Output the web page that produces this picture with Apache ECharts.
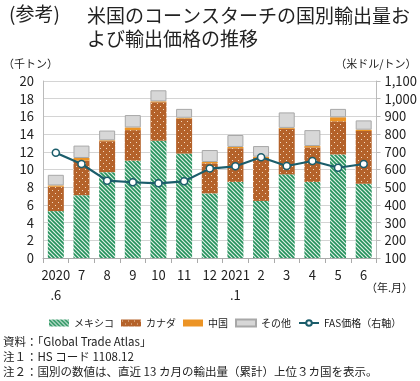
<!DOCTYPE html>
<html><head><meta charset="utf-8">
<script src="https://cdn.jsdelivr.net/npm/echarts@6/dist/echarts.min.js"></script>
<style>html,body{margin:0;padding:0;background:#fff}#c{width:420px;height:381px}</style>
</head><body><div id="c"></div>
<script>
const categories = ['2020\n.6','7','8','9','10','11','12','2021\n.1','2','3','4','5','6'];
const mexico = [5.3, 7.1, 9.7, 11.0, 13.25, 11.8, 7.3, 8.6, 6.45, 9.45, 8.6, 11.7, 8.4];
const canada = [2.75, 3.9, 3.5, 3.45, 4.35, 3.95, 3.4, 3.8, 4.85, 5.15, 3.9, 3.75, 5.95];
const china  = [0.15, 0.3, 0.1, 0.3, 0.1, 0.1, 0.15, 0.15, 0.15, 0.1, 0.15, 0.45, 0.15];
const other  = [1.2, 1.4, 1.1, 1.4, 1.25, 1.0, 1.35, 1.35, 1.2, 1.75, 1.8, 0.95, 1.05];
const fasPrice = [695, 631, 537, 528, 522, 533, 605, 618, 669, 620, 648, 610, 631];
const leftTicks = {min:0, max:20, interval:2};
const rightTicks = {min:100, max:1100, interval:100};

const FONT = '"Noto Sans CJK JP", "Noto Sans", sans-serif';

function hatch(){
  const c = document.createElement('canvas'); c.width = 4; c.height = 4;
  const g = c.getContext('2d');
  g.fillStyle = '#dff0e6'; g.fillRect(0,0,4,4);
  g.strokeStyle = '#24915c'; g.lineWidth = 1.6;
  g.beginPath(); g.moveTo(-1,-1); g.lineTo(5,5); g.moveTo(-1,3); g.lineTo(1,5); g.moveTo(3,-1); g.lineTo(5,1); g.stroke();
  return c;
}
function dots(){
  const c = document.createElement('canvas'); c.width = 6; c.height = 6;
  const g = c.getContext('2d');
  g.fillStyle = '#b4622a'; g.fillRect(0,0,6,6);
  g.fillStyle = '#f3d9bf';
  g.fillRect(1,1,1,1); g.fillRect(4,4,1,1);
  return c;
}
const chart = echarts.init(document.getElementById('c'));
chart.setOption({
  animation:false,
  textStyle:{fontFamily:FONT},
  title:[
    {text:'(参考)', left:4, top:-1, textStyle:{fontSize:19, fontWeight:'normal', color:'#222', fontFamily:FONT}},
    {text:'米国のコーンスターチの国別輸出量お\nよび輸出価格の推移', left:82, top:-1, textStyle:{fontSize:19, fontWeight:'normal', color:'#222', lineHeight:23, fontFamily:FONT}}
  ],
  grid:{left:33, right:43, top:81, bottom:123},
  legend:{
    top:313, left:44, itemWidth:20, itemHeight:7, itemGap:7,
    textStyle:{fontSize:10, color:'#222', fontFamily:FONT},
    data:[{name:'メキシコ',icon:'rect'},{name:'カナダ',icon:'rect'},{name:'中国',icon:'rect'},{name:'その他',icon:'rect'},'FAS価格（右軸）']
  },
  xAxis:{type:'category', data:categories,
    axisLine:{lineStyle:{color:'#aaa'}},
    axisTick:{show:true, lineStyle:{color:'#aaa'}},
    axisLabel:{fontSize:13, color:'#222', lineHeight:20, margin:7, interval:0}
  },
  yAxis:[
    {type:'value', min:leftTicks.min, max:leftTicks.max, interval:leftTicks.interval,
     name:'（千トン）', nameGap:12, nameLocation:'end', nameTextStyle:{fontSize:11, color:'#222', align:'left', padding:[0,0,0,-40]},
     axisLine:{show:true, lineStyle:{color:'#bbb'}}, axisTick:{show:false},
     axisLabel:{fontSize:13, color:'#222', margin:9},
     splitLine:{lineStyle:{color:'#d4d4d4'}}},
    {type:'value', min:rightTicks.min, max:rightTicks.max, interval:rightTicks.interval,
     name:'（米ドル/トン）', nameGap:12, nameLocation:'end', nameTextStyle:{fontSize:11, color:'#222', align:'right', padding:[0,-40,0,0]},
     axisLine:{show:true, lineStyle:{color:'#bbb'}}, axisTick:{show:true, length:4, lineStyle:{color:'#bbb'}},
     axisLabel:{fontSize:13, color:'#222', margin:8, formatter:v=>v.toLocaleString('en-US')},
     splitLine:{show:false}}
  ],
  series:[
    {name:'メキシコ', type:'bar', stack:'a', barWidth:16, data:mexico,
     itemStyle:{color:{image:hatch(), repeat:'repeat'}}},
    {name:'カナダ', type:'bar', stack:'a', data:canada,
     itemStyle:{color:{image:dots(), repeat:'repeat'}}},
    {name:'中国', type:'bar', stack:'a', data:china, itemStyle:{color:'#ec9425'}},
    {name:'その他', type:'bar', stack:'a', data:other, itemStyle:{color:'#d7d7d7', borderColor:'#a8a8a8', borderWidth:1}},
    {name:'FAS価格（右軸）', type:'line', yAxisIndex:1, data:fasPrice,
     lineStyle:{color:'#1b5d6b', width:2.2}, itemStyle:{color:'#fff', borderColor:'#1b5d6b', borderWidth:1.5},
     symbol:'circle', symbolSize:7}
  ],
  graphic:[
    {type:'text', left:366, top:282, style:{text:'（年.月）', fontSize:11, fill:'#222', fontFamily:FONT}},
    {type:'text', left:3, top:336, style:{text:'資料：「Global Trade Atlas」', fontSize:11.5, fill:'#222', fontFamily:FONT}},
    {type:'text', left:3, top:351, style:{text:'注１：HS コード 1108.12', fontSize:11.5, fill:'#222', fontFamily:FONT}},
    {type:'text', left:3, top:366, style:{text:'注２：国別の数値は、直近 13 カ月の輸出量（累計）上位３カ国を表示。', fontSize:11.5, fill:'#222', fontFamily:FONT}}
  ]
});
</script></body></html>
